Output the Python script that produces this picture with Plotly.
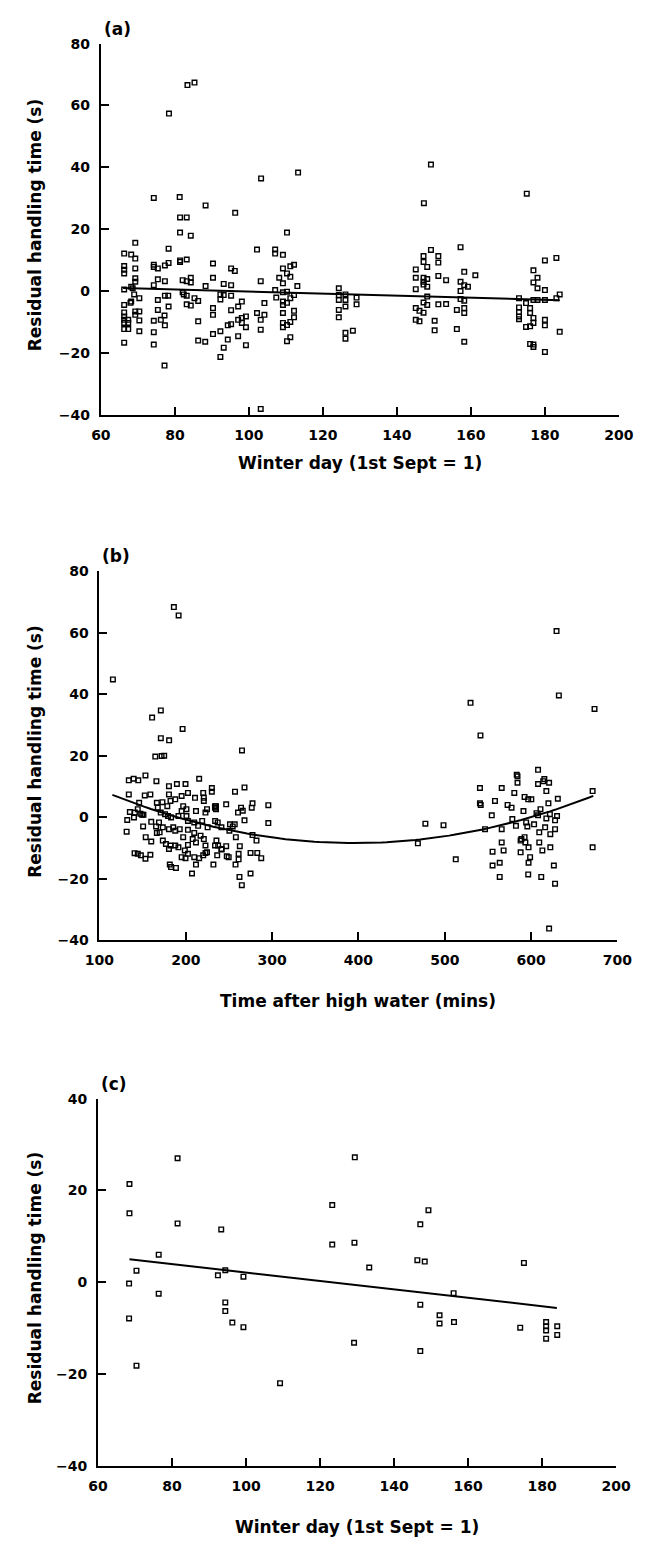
import plotly.graph_objects as go

# ---------------- Panel (a): residual handling time vs winter day ----------------
winter_day_a = [
    74.3, 78.4, 83.4, 85.3, 81.3, 81.4, 83.2, 88.3, 96.3, 103.3, 113.3, 110.3, 147.3, 149.2, 175.1, 81.4, 84.3,
    66.3, 66.3, 66.3, 66.3, 66.3, 66.3, 66.3, 66.3, 66.3, 66.3, 66.3, 66.3, 67.4, 67.4, 67.4, 68.0,
    68.2, 69.3, 69.3, 69.3, 69.3, 69.3, 68.2, 69.0, 68.2, 69.3, 69.3, 70.4, 70.4, 70.4, 70.4, 68.6,
    74.3, 74.3, 75.4, 74.3, 75.4, 75.4, 75.4, 74.3, 74.3, 74.3, 76.2, 77.3, 77.2, 77.3, 77.3, 78.2, 77.3, 78.3, 78.3, 78.3, 77.2,
    81.4, 81.4, 83.2, 82.1, 83.2, 84.3, 84.3, 82.1, 82.4, 83.2, 83.2, 84.3, 85.3, 86.3, 86.3, 86.3, 88.2, 88.3, 90.3, 90.3, 90.3, 90.3, 90.3,
    92.3, 92.3, 93.2, 92.3, 92.3, 93.2, 93.2, 94.3, 94.3, 95.2, 95.2, 95.2, 95.2, 96.2, 95.2, 97.1, 97.1, 97.1, 98.1, 98.1, 98.1, 99.2, 99.2, 99.2,
    102.2, 102.2, 103.2, 103.2, 103.2, 104.2, 104.2, 103.2,
    107.1, 107.1, 108.2, 109.2, 107.1, 107.4, 109.2, 110.3, 109.2, 109.2, 109.2, 109.2, 109.2, 109.2, 109.2, 110.3, 111.2, 110.3, 110.3,
    111.2, 111.2, 112.2, 111.2, 112.2, 112.2, 112.2, 111.2, 113.1, 110.3,
    124.3, 124.3, 124.3, 124.3, 124.3, 126.1, 126.1, 126.1, 126.1, 126.1, 128.1, 129.1, 129.1,
    145.1, 145.1, 145.1, 145.1, 145.1, 146.1, 146.1, 147.2, 147.2, 147.2, 147.2, 147.2, 147.2, 148.2, 148.2, 148.2, 148.2, 148.2, 147.2,
    149.2, 151.2, 151.2, 151.2, 151.2, 150.2, 150.2, 153.3, 153.3, 156.2, 156.2, 157.2, 157.2, 157.2, 157.2,
    158.2, 158.2, 158.2, 158.2, 158.2, 158.2, 159.2, 161.2,
    173.0, 173.0, 173.0, 173.0, 173.0, 174.9, 176.0, 176.0, 174.9, 176.0, 176.0, 176.9, 176.9, 176.9, 178.0, 176.9, 178.0, 176.9,
    178.0, 176.9, 176.9, 180.0, 180.0, 180.0, 180.0, 180.0, 180.0, 183.1, 183.1, 184.0, 184.0,
]
residual_a = [
    30.1, 57.4, 66.6, 67.4, 30.4, 23.8, 23.8, 27.7, 25.3, 36.4, 38.3, 18.9, 28.4, 40.9, 31.5, 18.9, 17.9,
    12.1, 8.1, 6.9, 5.7, 0.5, -4.5, -6.9, -8.2, -9.3, -10.3, -12.3, -16.7, -12.3, -10.3, -9.3, -3.8,
    11.8, 10.5, 15.6, 7.3, 4.1, 3.0, 1.4, -1.1, -3.4, -6.6, -7.7, -6.6, -9.5, -13.0, -2.3, 0.9,
    8.5, 7.8, 7.3, 1.9, 3.8, -2.9, -6.1, -9.6, -13.3, -17.3, -9.3, -11.1, -7.9, 3.2, -1.5, -1.5, 8.3, 9.1, 13.7, -5.0, -24.1,
    9.9, 9.4, 10.2, 3.5, 3.2, 4.3, 2.8, -0.4, -1.1, -1.5, -4.3, -4.7, -2.3, -3.2, -9.8, -16.0, -16.4, 1.6, 8.9, 4.3, -5.5, -7.7, -13.9,
    -13.0, -21.3, -18.3, -1.1, -2.7, 2.3, -1.3, -15.7, -11.1, -10.7, 1.9, -1.5, 7.3, 6.5, -6.2, -14.6, -9.3, -5.0, -3.4, -8.7, -10.3, -8.2, -11.7, -17.5,
    13.4, -7.1, 3.2, -9.3, -12.5, -3.9, -7.7, -38.1,
    13.4, 12.1, 4.3, 11.7, 0.3, -2.1, 7.3, 5.7, 2.5, -0.4, -3.4, -4.5, -7.1, -10.3, -11.7, -16.2, -14.9, -0.2, -3.8,
    4.6, 8.0, 8.5, -2.3, -1.3, -6.4, -8.5, -10.0, 1.6, -11.0,
    0.9, -1.3, -2.9, -6.1, -8.5, -1.1, -2.9, -5.0, -13.5, -15.4, -12.8, -2.1, -4.3,
    7.0, 4.3, 0.6, -5.5, -9.3, -6.4, -9.8, 11.3, 9.4, 4.3, 3.0, 2.1, -3.7, 7.8, 3.9, 1.4, -1.8, -4.5, -7.0,
    13.3, 11.3, 9.2, 4.9, -4.3, -9.6, -12.7, 3.5, -4.2, -6.1, -12.3, 14.2, 3.0, 0.0, -2.6,
    6.2, 1.9, -3.1, -5.5, -7.1, -16.4, 1.4, 5.1,
    -2.3, -5.3, -6.8, -8.2, -9.1, -3.9, -5.5, -7.1, -11.6, -11.4, -17.1, -17.3, -18.1, 6.7, 4.3, 2.8, 0.9, -2.9,
    -2.9, -8.7, -10.3, 9.9, 0.3, -2.9, -9.3, -11.1, -19.7, 10.7, -2.3, -1.1, -13.2,
]
# fitted linear trend for (a): residual = intercept + slope * day
fit_a_intercept, fit_a_slope = 3.13, -0.033
fit_a_range = [66, 184]

# ---------------- Panel (b): residual handling time vs time after high water ----------------
time_after_hw_b = [
    115.6, 186.2, 191.7, 629.4, 632.1, 673.4, 529.8, 541.3, 161.0, 171.1, 171.1, 180.7, 196.3, 164.7, 172.0, 175.0, 265.1,
    134.0, 139.6, 145.0, 153.3, 166.0, 134.0, 152.5, 159.0, 146.0, 166.5, 144.4, 135.2, 141.0, 147.5, 149.5, 151.0,
    132.2, 140.0, 160.0, 150.6, 165.6, 131.5, 153.6, 160.0, 166.5, 140.7, 144.4, 148.0, 153.3, 159.0,
    180.5, 189.7, 199.7, 215.5, 180.5, 187.8, 195.2, 202.5, 210.7, 220.2, 220.9, 220.9, 230.2, 230.2, 246.8, 235.0, 235.0,
    224.6, 222.8, 211.8, 200.8, 197.0, 182.3, 173.0, 178.6, 167.6, 171.0, 176.0, 179.5, 183.0, 191.5, 195.2, 200.8,
    202.5, 209.8, 219.0, 214.3, 225.3, 234.0, 237.0, 241.3, 251.2, 250.5, 169.0, 173.4, 169.7, 180.5, 185.5, 187.8,
    193.0, 202.5, 209.8, 217.1, 220.9, 208.0, 197.0, 173.4, 177.0, 182.3, 187.8, 191.5, 202.5, 211.8, 222.8, 233.9,
    235.5, 237.5, 241.3, 246.8, 180.5, 198.9, 202.5, 195.2, 199.7, 209.8, 215.5, 220.2, 222.8, 224.6, 236.4, 249.7,
    211.8, 232.0, 181.5, 183.0, 188.6, 207.2,
    257.0, 268.0, 260.5, 264.0, 266.0, 268.0, 254.4, 256.7, 258.0, 257.6, 261.2, 261.2, 262.6, 262.2, 264.9, 275.0,
    275.0, 276.4, 277.3, 277.3, 281.9, 282.8, 287.4, 295.6, 295.6, 241.5, 247.5, 233.8, 233.8,
    468.8, 477.5, 498.5, 512.7,
    540.7, 540.7, 541.6, 546.6, 554.4, 558.1, 555.3, 555.3, 563.6, 563.6, 565.9, 565.9, 565.9, 568.1, 572.7, 577.3,
    578.2, 580.5, 582.4, 583.3, 584.2, 584.2, 587.8, 588.7, 587.8, 591.1, 592.4, 592.4, 593.3, 594.2, 595.6, 596.6,
    596.6, 597.0, 598.8, 597.0, 600.2, 603.4, 606.2, 608.0, 608.0, 608.0, 609.4, 609.4, 610.8, 611.7, 613.0, 614.0,
    615.3, 616.2, 617.6, 617.6, 620.0, 620.8, 621.7, 622.2, 622.2, 620.8, 626.3, 627.7, 627.7, 627.7, 630.0, 630.9,
    671.2, 671.2,
]
residual_b = [
    44.8, 68.3, 65.6, 60.5, 39.6, 35.2, 37.2, 26.6, 32.4, 34.7, 25.7, 25.0, 28.7, 19.7, 19.9, 20.0, 21.7,
    12.0, 12.5, 12.0, 13.6, 11.7, 7.4, 7.1, 7.4, 4.7, 4.7, 2.6, 1.7, 1.5, 1.1, 0.8, 0.8,
    -0.9, -0.1, -1.5, -3.0, -3.0, -4.7, -6.5, -7.9, -5.1, -11.7, -11.9, -12.4, -13.5, -12.2,
    10.1, 10.8, 10.8, 12.5, 7.4, 5.8, 6.9, 7.9, 6.3, 7.9, 6.3, 5.3, 9.5, 8.3, 4.2, 3.6, 2.6,
    2.6, 1.5, 2.0, 2.6, 3.6, 5.3, 4.9, 3.6, 3.1, 1.5, 1.0, 0.4, -0.1, 0.4, 2.0, 0.4,
    -1.2, -1.7, -1.2, -2.8, -3.3, -1.2, -1.7, -3.3, -2.3, -4.4, -1.7, -3.3, -4.9, -3.9, -3.3, -4.4,
    -3.9, -4.1, -5.1, -6.0, -7.1, -7.1, -6.5, -7.6, -8.7, -9.2, -9.2, -9.8, -9.0, -8.2, -9.2, -9.2,
    -7.6, -9.2, -10.5, -9.4, -10.3, -10.8, -11.9, -13.0, -13.3, -13.0, -13.3, -12.4, -11.6, -11.4, -12.4, -13.0,
    -15.4, -15.4, -15.4, -16.2, -16.5, -18.3,
    8.3, 9.7, 1.5, 3.1, 2.1, -1.0, -3.0, -2.3, -6.5, -15.4, -13.7, -11.9, -9.4, -19.4, -22.1, -18.3,
    -11.6, 3.1, 4.5, -5.8, -7.6, -11.6, -13.3, 3.9, -1.9, -10.3, -12.7, 3.6, 3.1,
    -8.5, -2.1, -2.6, -13.7,
    9.5, 4.5, 4.0, -3.9, 0.6, 5.3, -11.2, -15.7, -14.8, -19.4, 9.5, -3.9, -8.2, -10.8, 4.0, 3.1,
    -0.6, 7.9, -2.8, 13.8, 13.3, 11.2, -7.6, -7.1, -11.4, 2.0, 6.6, -6.5, -8.2, -1.7, -3.0, 5.8,
    -18.6, -14.8, -13.0, -9.8, 5.8, -2.3, 1.3, 15.4, 10.8, 0.6, -4.9, -8.2, 2.6, -19.4, -10.8, 11.7,
    12.4, -3.3, 8.5, -0.4, 4.5, 11.2, 1.0, -9.8, -5.5, -36.2, -15.7, -1.0, -21.6, -3.9, 0.4, 6.0,
    8.5, -9.8,
]
# fitted quadratic for (b): residual = vertex_y + curvature * (t - vertex_t)^2
fit_b_vertex_t, fit_b_vertex_y, fit_b_curvature = 395.0, -8.4, 2.0e-4
fit_b_range = [115, 672]

# ---------------- Panel (c): residual handling time vs winter day ----------------
winter_day_c = [
    68.5, 68.5, 81.5, 81.5, 76.4, 70.4, 68.4, 93.3, 92.4, 94.4, 99.3, 123.3, 123.3, 129.4, 129.3, 133.3,
    146.3, 148.3, 147.1, 149.3, 175.1, 156.1, 68.4, 70.4, 76.4, 94.4, 94.4, 96.3, 99.3, 109.2, 129.2,
    147.1, 147.1, 152.3, 152.3, 156.2, 174.1, 181.1, 181.1, 181.1, 181.1, 184.1, 184.1,
]
residual_c = [
    21.4, 15.0, 27.0, 12.8, 6.0, 2.5, -0.3, 11.5, 1.5, 2.6, 1.2, 16.8, 8.2, 27.2, 8.6, 3.2,
    4.8, 4.5, 12.6, 15.7, 4.2, -2.4, -7.9, -18.2, -2.5, -4.4, -6.3, -8.8, -9.8, -22.0, -13.2,
    -4.9, -15.0, -7.2, -9.0, -8.7, -9.9, -8.7, -9.6, -10.5, -12.3, -9.6, -11.5,
]
fit_c_intercept, fit_c_slope = 11.29, -0.0918
fit_c_range = [68.5, 184]

# ---------------- layout constants ----------------
W, H = 653, 1548
FONT = "DejaVu Sans"


def px_x(p):
    return p / W


def px_y(p):
    return 1 - p / H


marker = dict(symbol="square-open", size=4.6, color="black", line=dict(width=1.4, color="black"))
fit_line = dict(color="black", width=2)

fig = go.Figure()

# (a)
fig.add_trace(go.Scatter(x=winter_day_a, y=residual_a, mode="markers", marker=marker,
                         xaxis="x", yaxis="y", cliponaxis=False, showlegend=False))
fig.add_trace(go.Scatter(x=fit_a_range,
                         y=[fit_a_intercept + fit_a_slope * d for d in fit_a_range],
                         mode="lines", line=fit_line, xaxis="x", yaxis="y", showlegend=False))

# (b)
fit_b_t = [fit_b_range[0] + i * (fit_b_range[1] - fit_b_range[0]) / 100 for i in range(101)]
fig.add_trace(go.Scatter(x=time_after_hw_b, y=residual_b, mode="markers", marker=marker,
                         xaxis="x2", yaxis="y2", cliponaxis=False, showlegend=False))
fig.add_trace(go.Scatter(x=fit_b_t,
                         y=[fit_b_vertex_y + fit_b_curvature * (t - fit_b_vertex_t) ** 2 for t in fit_b_t],
                         mode="lines", line=fit_line, xaxis="x2", yaxis="y2", showlegend=False))

# (c)
fig.add_trace(go.Scatter(x=winter_day_c, y=residual_c, mode="markers", marker=marker,
                         xaxis="x3", yaxis="y3", cliponaxis=False, showlegend=False))
fig.add_trace(go.Scatter(x=fit_c_range,
                         y=[fit_c_intercept + fit_c_slope * d for d in fit_c_range],
                         mode="lines", line=fit_line, xaxis="x3", yaxis="y3", showlegend=False))

tick_font = dict(family=FONT, size=14, color="black", weight="bold")


def xaxis(domain_px, rng, dtick, anchor):
    return dict(domain=[px_x(domain_px[0]), px_x(domain_px[1])], range=rng, dtick=dtick,
                anchor=anchor, showline=True, linewidth=2, linecolor="black",
                ticks="inside", ticklen=8, tickwidth=1.5, tickcolor="black",
                showgrid=False, zeroline=False, tickfont=tick_font, ticklabelstandoff=6)


def yaxis(domain_px, rng, dtick, anchor):
    return dict(domain=[px_y(domain_px[1]), px_y(domain_px[0])], range=rng, dtick=dtick,
                anchor=anchor, showline=True, linewidth=2, linecolor="black",
                ticks="inside", ticklen=8, tickwidth=1.5, tickcolor="black",
                showgrid=False, zeroline=False, tickfont=tick_font, ticklabelstandoff=6)


panels = [
    # x pixel span, y pixel span, x range, x dtick, y range, panel letter, x title, title y px
    ((90, 633), (36, 411), [60, 200], 20, [-40, 80], "(a)", "Winter day (1st Sept = 1)", 460),
    ((88.5, 631.5), (569, 942), [100, 700], 100, [-40, 80], "(b)", "Time after high water (mins)", 1003),
    ((87, 630), (1102, 1473), [60, 200], 20, [-40, 40], "(c)", "Winter day (1st Sept = 1)", 1535),
]

layout = dict(width=W, height=H, autosize=False, margin=dict(l=0, r=0, t=0, b=0),
              paper_bgcolor="white", plot_bgcolor="white", showlegend=False)
annotations = []
for i, (xs, ys, xr, xd, yr, letter, xtitle, ty) in enumerate(panels):
    suffix = "" if i == 0 else str(i + 1)
    layout["xaxis" + suffix] = xaxis(xs, xr, xd, "y" + suffix)
    layout["yaxis" + suffix] = yaxis(ys, yr, 20, "x" + suffix)
    annotations.append(dict(text=letter, x=px_x(xs[0] + 17), y=px_y(ys[0] - 15), xref="paper", yref="paper",
                            showarrow=False, xanchor="center", yanchor="middle",
                            font=dict(family=FONT, size=17, color="black", weight="bold")))
    annotations.append(dict(text=xtitle, x=px_x((xs[0] + xs[1]) / 2), y=px_y(ty), xref="paper", yref="paper",
                            showarrow=False, xanchor="center", yanchor="middle",
                            font=dict(family=FONT, size=17, color="black", weight="bold")))
    annotations.append(dict(text="Residual handling time (s)", x=px_x(21), y=px_y((ys[0] + ys[1]) / 2 - 4),
                            xref="paper", yref="paper", showarrow=False, textangle=-90,
                            xanchor="center", yanchor="middle",
                            font=dict(family=FONT, size=17, color="black", weight="bold")))
layout["annotations"] = annotations

fig.update_layout(**layout)
fig.write_html("out.html")
